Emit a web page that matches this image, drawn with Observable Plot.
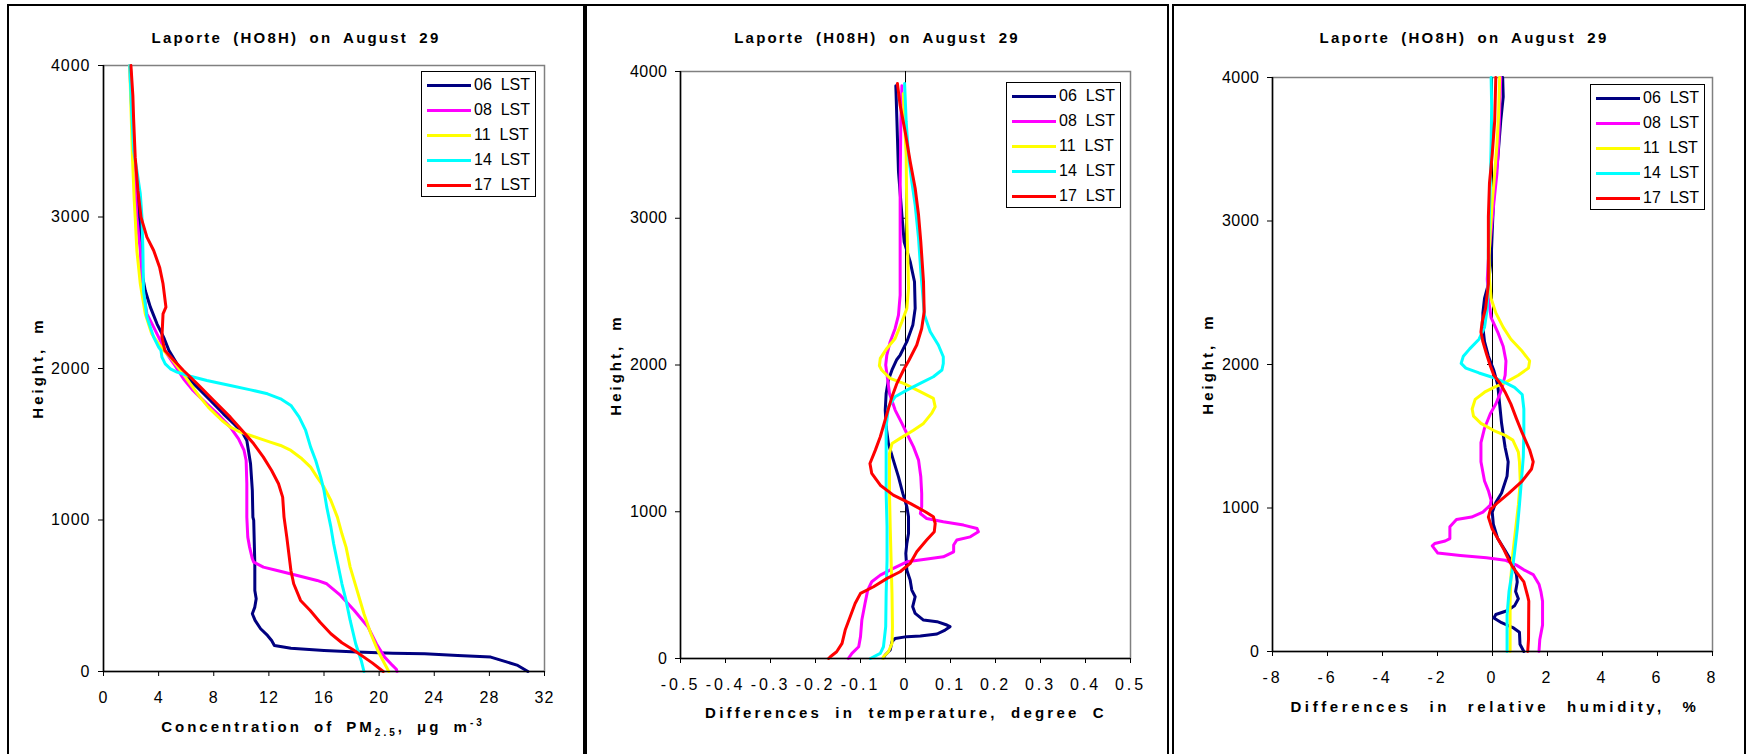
<!DOCTYPE html>
<html>
<head>
<meta charset="utf-8">
<script src="https://cdn.jsdelivr.net/npm/d3@7"></script>
<script src="https://cdn.jsdelivr.net/npm/@observablehq/plot@0.6"></script>
<style>
  body { margin: 0; background: #fff; }
  #root { position: relative; width: 1756px; height: 754px; overflow: hidden; background: #fff;
          font-family: "Liberation Sans", Arial, sans-serif; color: #000; }
  .panel { position: absolute; top: 4px; height: 770px; border: 2px solid #000; border-bottom: none; box-sizing: border-box; }
  .plot { position: absolute; top: 0; }
  .lbl { position: absolute; font-weight: bold; font-size: 15px; white-space: nowrap; transform: translate(-50%, -50%); }
  .ylbl { transform: translate(-50%, -50%) rotate(-90deg); }
  .legend { position: absolute; border: 1px solid #000; background: #fff; box-sizing: border-box; }
  .sw { position: absolute; height: 3px; }
  .lt { position: absolute; font-size: 16px; white-space: pre; transform: translateY(-50%); }
  sub, sup { font-size: 10px; }
</style>
</head>
<body>
<div id="root"></div>
<script>
// ---------------- data ----------------
const seriesLabels = ["06  LST", "08  LST", "11  LST", "14  LST", "17  LST"];
const colors = ["#000080", "#FF00FF", "#FFFF00", "#00FFFF", "#FF0000"];
const heightTicks = [0, 1000, 2000, 3000, 4000];
const pmTicks = [0, 4, 8, 12, 16, 20, 24, 28, 32];
const dtTicks = [-0.5, -0.4, -0.3, -0.2, -0.1, 0, 0.1, 0.2, 0.3, 0.4, 0.5];
const rhTicks = [-8, -6, -4, -2, 0, 2, 4, 6, 8];

// PM2.5 concentration [value, height m]
const pm06 = [[30.8,0],[30.06,40],[29.3,62],[28.1,95],[25.7,106],[23.3,117],[21.0,121],[18.4,128],[16.0,139],[13.6,154],[12.4,172],[12.2,205],[11.9,238],[11.4,282],[11.0,337],[10.8,381],[10.98,425],[11.08,480],[10.98,535],[10.98,711],[10.9,997],[10.84,1019],[10.8,1195],[10.67,1371],[10.4,1525],[10.06,1580],[9.45,1635],[8.7,1701],[7.76,1789],[6.8,1877],[6.06,1943],[5.33,2031],[4.75,2119],[4.36,2207],[3.88,2295],[3.4,2405],[3.03,2515],[2.85,2600],[2.75,2800],[2.6,3000],[2.3,3300],[2.15,3500],[2.05,3800],[1.95,4000]];
const pm08 = [[21.3,0],[21.25,15],[20.97,40],[20.4,95],[19.8,183],[19.2,293],[18.2,403],[17.2,502],[16.2,579],[15.5,601],[14.06,634],[12.6,667],[11.6,689],[10.9,722],[10.8,744],[10.6,821],[10.47,887],[10.4,1019],[10.4,1239],[10.35,1393],[10.2,1459],[9.8,1536],[9.2,1613],[8.4,1690],[7.5,1767],[6.5,1855],[5.8,1932],[5.1,2031],[4.6,2097],[4.24,2163],[3.64,2273],[3.15,2361],[2.79,2559],[2.67,2779],[2.42,2999],[2.3,3219],[2.15,3500],[2.0,3800],[1.9,4000]];
const pm11 = [[20.7,0],[20.4,51],[19.9,139],[19.4,249],[18.9,381],[18.4,535],[17.9,689],[17.6,821],[17.3,909],[16.97,1019],[16.5,1129],[16.0,1217],[15.5,1283],[15.03,1349],[14.4,1404],[13.6,1459],[12.85,1492],[12.1,1514],[11.4,1536],[10.67,1558],[9.94,1580],[9.2,1613],[8.6,1657],[8.1,1701],[7.6,1745],[7.0,1811],[6.3,1899],[5.6,1987],[4.85,2075],[4.36,2119],[4.0,2163],[3.5,2229],[3.03,2361],[2.67,2559],[2.42,2779],[2.3,2999],[2.23,3109],[2.1,3400],[2.0,3700],[1.9,4000]];
const pm14 = [[18.9,0],[18.7,73],[18.3,183],[17.9,337],[17.6,469],[17.3,579],[17.0,711],[16.7,843],[16.5,953],[16.2,1085],[16.0,1195],[15.76,1283],[15.4,1393],[15.03,1481],[14.67,1591],[14.2,1679],[13.6,1756],[12.85,1800],[11.9,1833],[10.67,1859],[9.2,1888],[7.5,1921],[6.3,1949],[5.33,1976],[4.85,1998],[4.48,2031],[4.24,2075],[4.17,2119],[4.0,2141],[3.64,2207],[3.15,2339],[2.9,2515],[2.86,2779],[2.79,2999],[2.67,3153],[2.42,3307],[2.18,3439],[2.06,3659],[1.9,4000]];
const pm17 = [[20.3,0],[19.5,57],[18.2,139],[17.3,190],[16.5,249],[15.7,327],[15.0,403],[14.3,469],[13.8,579],[13.6,667],[13.3,887],[13.1,1019],[13.0,1151],[12.7,1239],[12.2,1327],[11.6,1415],[10.9,1503],[10.06,1591],[9.2,1679],[8.0,1789],[6.8,1899],[5.8,1987],[5.05,2060],[4.45,2119],[4.24,2207],[4.32,2361],[4.53,2405],[4.32,2559],[4.07,2669],[3.64,2779],[3.15,2867],[2.72,2999],[2.5,3175],[2.3,3395],[2.18,3659],[2.13,3802],[1.99,4000]];

// Temperature differences [value, height m]
const dt06 = [[-0.05,0],[-0.045,24],[-0.034,58],[-0.03,115],[-0.023,137],[0.003,149],[0.033,153],[0.07,167],[0.088,194],[0.099,217],[0.092,228],[0.07,251],[0.04,262],[0.0215,307],[0.016,353],[0.0215,421],[0.014,466],[0.0104,534],[0.003,602],[0.0007,716],[0.003,784],[0.0067,852],[0.0067,966],[0.003,1034],[-0.006,1125],[-0.0156,1238],[-0.027,1352],[-0.038,1465],[-0.043,1579],[-0.045,1693],[-0.043,1806],[-0.038,1897],[-0.03,1966],[-0.02,2034],[-0.0118,2068],[0.003,2159],[0.0163,2272],[0.0215,2386],[0.02,2567],[0.0104,2704],[-0.003,2840],[-0.008,3022],[-0.0156,3317],[-0.019,3658],[-0.0215,3903]];
const dt08 = [[-0.127,0],[-0.119,35],[-0.104,80],[-0.1,149],[-0.097,262],[-0.09,375],[-0.084,466],[-0.075,523],[-0.056,568],[-0.027,614],[0.003,659],[0.04,675],[0.084,693],[0.107,727],[0.107,773],[0.114,807],[0.144,829],[0.162,864],[0.159,886],[0.129,909],[0.084,932],[0.047,954],[0.033,988],[0.036,1034],[0.036,1125],[0.034,1238],[0.029,1352],[0.0178,1442],[0.003,1533],[-0.008,1602],[-0.023,1693],[-0.0356,1806],[-0.0415,1943],[-0.044,2000],[-0.0415,2068],[-0.034,2159],[-0.023,2249],[-0.0156,2340],[-0.0119,2476],[-0.0119,2749],[-0.0119,3204],[-0.0104,3658],[-0.008,3903]];
const dt11 = [[-0.05,0],[-0.049,12],[-0.038,46],[-0.03,103],[-0.029,217],[-0.03,444],[-0.032,671],[-0.034,898],[-0.0356,1125],[-0.0356,1397],[-0.03,1465],[-0.0119,1500],[0.0178,1556],[0.04,1602],[0.058,1670],[0.066,1715],[0.062,1772],[0.0326,1818],[-0.0044,1875],[-0.034,1909],[-0.053,1966],[-0.058,1995],[-0.056,2045],[-0.0415,2113],[-0.023,2181],[-0.008,2295],[0.003,2386],[0.0067,2522],[0.005,2749],[0.003,2977],[0.0015,3431],[-0.005,3850]];
const dt14 = [[-0.078,0],[-0.056,35],[-0.049,80],[-0.044,217],[-0.043,444],[-0.041,671],[-0.041,898],[-0.043,1125],[-0.043,1352],[-0.043,1579],[-0.038,1715],[-0.023,1784],[0.003,1829],[0.0326,1875],[0.062,1920],[0.081,1966],[0.084,2010],[0.084,2056],[0.073,2136],[0.055,2227],[0.042,2340],[0.0385,2476],[0.034,2636],[0.029,2863],[0.0215,3090],[0.014,3249],[0.0067,3431],[0.0015,3658],[-0.002,3919]];
const dt17 = [[-0.171,0],[-0.167,12],[-0.153,46],[-0.141,103],[-0.134,194],[-0.123,285],[-0.112,375],[-0.1,444],[-0.071,489],[-0.041,546],[-0.0119,591],[0.0104,648],[0.025,727],[0.047,807],[0.064,864],[0.066,920],[0.062,966],[0.044,1000],[0.0104,1057],[-0.027,1113],[-0.056,1181],[-0.075,1261],[-0.079,1329],[-0.067,1420],[-0.056,1511],[-0.041,1670],[-0.03,1784],[-0.019,1875],[-0.0044,1966],[0.008,2034],[0.025,2136],[0.036,2249],[0.0415,2363],[0.04,2567],[0.034,2840],[0.029,3022],[0.0215,3204],[0.0104,3386],[-0.0007,3590],[-0.012,3771],[-0.018,3919]];

// Relative humidity differences [value, height m]
const rh06 = [[1.14,0],[1.0,50],[0.98,134],[0.74,167],[0.33,201],[0.05,234],[0.12,258],[0.53,284],[0.8,318],[0.94,368],[0.84,418],[0.9,485],[0.87,536],[0.67,636],[0.46,703],[0.19,787],[0.03,887],[-0.01,971],[0.12,1038],[0.33,1104],[0.53,1222],[0.57,1322],[0.46,1422],[0.33,1590],[0.26,1724],[0.19,1858],[0.05,1958],[-0.15,2058],[-0.29,2159],[-0.35,2259],[-0.35,2360],[-0.29,2460],[-0.15,2560],[-0.05,2728],[-0.01,2929],[0.05,3196],[0.19,3431],[0.3,3698],[0.39,3866],[0.37,4000]];
const rh08 = [[1.69,0],[1.72,84],[1.82,184],[1.82,351],[1.76,418],[1.69,469],[1.48,536],[1.14,569],[0.87,602],[0.46,636],[-0.22,653],[-1.17,669],[-1.99,686],[-2.19,736],[-2.1,753],[-1.72,770],[-1.55,787],[-1.55,870],[-1.31,920],[-0.76,937],[-0.35,971],[-0.08,1021],[-0.05,1054],[-0.15,1121],[-0.29,1188],[-0.42,1322],[-0.42,1456],[-0.29,1556],[-0.08,1657],[0.12,1724],[0.33,1824],[0.46,1925],[0.49,2025],[0.39,2125],[0.19,2226],[-0.05,2326],[-0.15,2460],[-0.19,2594],[-0.15,2728],[-0.05,2929],[0.05,3129],[0.16,3330],[0.22,3531],[0.26,3765],[0.3,4000]];
const rh11 = [[0.64,0],[0.64,351],[0.67,519],[0.74,686],[0.84,853],[0.94,1021],[1.01,1188],[0.98,1322],[0.94,1389],[0.74,1473],[0.46,1506],[0.05,1540],[-0.42,1590],[-0.69,1640],[-0.74,1690],[-0.63,1757],[-0.29,1807],[0.05,1841],[0.46,1874],[0.94,1925],[1.31,1975],[1.35,2025],[1.08,2092],[0.67,2176],[0.39,2259],[0.12,2360],[-0.05,2460],[-0.11,2594],[-0.12,2761],[-0.08,2929],[-0.01,3129],[0.08,3330],[0.16,3531],[0.22,3732],[0.26,4000]];
const rh14 = [[0.53,0],[0.53,251],[0.6,418],[0.71,552],[0.8,686],[0.9,853],[0.98,1021],[1.05,1188],[1.12,1356],[1.14,1523],[1.14,1690],[1.08,1791],[0.8,1841],[0.46,1874],[0.05,1908],[-0.49,1941],[-0.97,1975],[-1.14,2008],[-1.06,2058],[-0.83,2109],[-0.49,2176],[-0.29,2259],[-0.19,2393],[-0.15,2594],[-0.15,2795],[-0.12,2996],[-0.08,3263],[-0.05,3531],[-0.03,3799],[-0.05,4000]];
const rh17 = [[1.28,0],[1.31,84],[1.32,351],[1.28,385],[1.14,485],[0.94,536],[0.74,586],[0.6,636],[0.39,720],[0.19,787],[-0.01,853],[-0.15,937],[-0.08,987],[0.19,1038],[0.6,1104],[1.08,1188],[1.42,1272],[1.48,1322],[1.35,1406],[1.08,1523],[0.87,1623],[0.67,1724],[0.46,1807],[0.26,1874],[0.05,1925],[-0.08,1991],[-0.22,2075],[-0.35,2159],[-0.42,2226],[-0.38,2293],[-0.25,2393],[-0.15,2560],[-0.15,2795],[-0.15,3029],[-0.11,3263],[-0.01,3464],[0.08,3698],[0.12,4000]];

// ---------------- layout ----------------
const root = document.getElementById("root");
const FONT = '"Liberation Sans", Arial, sans-serif';

function addEl(cls, style, html) {
  const d = document.createElement("div");
  d.className = cls;
  Object.assign(d.style, style);
  if (html != null) d.innerHTML = html;
  root.appendChild(d);
  return d;
}

function makePanel(cfg) {
  addEl("panel", {left: cfg.boxLeft + "px", width: cfg.boxWidth + "px"});
  const marks = [Plot.frame({stroke: "#808080", strokeWidth: 1.5})];
  if (cfg.zero) {
    marks.push(Plot.ruleX([0], {stroke: "#000", strokeWidth: 1}));
    marks.push(Plot.ruleY(heightTicks.slice(1, 4), {y: d => d, x1: 0, x2: 0, insetLeft: -5, stroke: "#000", strokeWidth: 1}));
  }
  cfg.series.forEach((s, i) => {
    marks.push(Plot.line(s, {x: d => d[0], y: d => d[1], stroke: colors[i], strokeWidth: 3,
                             strokeLinejoin: "round", strokeLinecap: "round"}));
  });
  marks.push(Plot.ruleX([cfg.xDomain[0]], {stroke: "#000", strokeWidth: 1.5}));
  marks.push(Plot.ruleY([0], {stroke: "#000", strokeWidth: 1.5}));
  marks.push(Plot.axisX({ticks: cfg.xTicks, tickFormat: cfg.xFmt, tickSize: 5, tickPadding: 15, label: null}));
  marks.push(Plot.axisY({ticks: heightTicks, tickFormat: d => String(d), tickSize: 5, tickPadding: 8, label: null}));
  const svg = Plot.plot({
    width: cfg.boxWidth, height: 754,
    marginLeft: cfg.mL, marginRight: cfg.mR, marginTop: cfg.mT, marginBottom: cfg.mB,
    x: {domain: cfg.xDomain, label: null},
    y: {domain: [0, 4000], label: null},
    style: {fontSize: "16px", fontFamily: FONT, letterSpacing: cfg.tickLs, background: "transparent", overflow: "visible"},
    marks
  });
  svg.querySelectorAll('[aria-label="y-axis tick label"]').forEach(g => { g.style.letterSpacing = cfg.yTickLs; });
  svg.classList.add("plot");
  svg.style.left = cfg.boxLeft + "px";
  root.appendChild(svg);

  addEl("lbl", {left: cfg.title[0] + "px", top: cfg.title[1] + "px", letterSpacing: "2.2px", wordSpacing: "5px"}, cfg.titleText);
  addEl("lbl", {left: cfg.xl[0] + "px", top: cfg.xl[1] + "px", letterSpacing: cfg.xlLs, wordSpacing: cfg.xlWs}, cfg.xlText);
  addEl("lbl ylbl", {left: cfg.yl[0] + "px", top: cfg.yl[1] + "px", letterSpacing: "3px", wordSpacing: "6px"}, "Height, m");

  const lg = addEl("legend", {left: cfg.leg[0] + "px", top: cfg.leg[1] + "px", width: "115px", height: "126px"});
  seriesLabels.forEach((t, i) => {
    const sw = document.createElement("div");
    sw.className = "sw";
    Object.assign(sw.style, {left: "5px", top: (13 + 25 * i - 1.5) + "px", width: "44px", background: colors[i]});
    lg.appendChild(sw);
    const tx = document.createElement("div");
    tx.className = "lt";
    Object.assign(tx.style, {left: "52px", top: (13 + 25 * i) + "px"});
    tx.textContent = t;
    lg.appendChild(tx);
  });
}

makePanel({
  boxLeft: 7, boxWidth: 578, mL: 96, mR: 41, mT: 65, mB: 83,
  xDomain: [0, 32], xTicks: pmTicks, xFmt: d => String(d), tickLs: "1px", yTickLs: "1px",
  series: [pm06, pm08, pm11, pm14, pm17], zero: false,
  title: [296, 37], titleText: "Laporte (HO8H) on August 29",
  xl: [323, 727], xlLs: "3px", xlWs: "5px",
  xlText: "Concentration of PM<sub>2.5</sub>, μg m<sup>-3</sup>",
  yl: [37, 368], leg: [421, 71]
});
makePanel({
  boxLeft: 585, boxWidth: 584, mL: 95, mR: 39, mT: 71, mB: 96,
  xDomain: [-0.5, 0.5], xTicks: dtTicks, xFmt: d => (Math.abs(d) < 1e-9 ? "0" : d.toFixed(1)), tickLs: "3px", yTickLs: "0.5px",
  series: [dt06, dt08, dt11, dt14, dt17], zero: true,
  title: [877, 37], titleText: "Laporte (H08H) on August 29",
  xl: [906, 712], xlLs: "3.2px", xlWs: "6px",
  xlText: "Differences in temperature, degree C",
  yl: [615, 365], leg: [1006, 82]
});
makePanel({
  boxLeft: 1172, boxWidth: 574, mL: 100, mR: 34, mT: 77, mB: 103,
  xDomain: [-8, 8], xTicks: rhTicks, xFmt: d => String(d), tickLs: "3px", yTickLs: "0.5px",
  series: [rh06, rh08, rh11, rh14, rh17], zero: true,
  title: [1464, 37], titleText: "Laporte (HO8H) on August 29",
  xl: [1495, 706], xlLs: "3.6px", xlWs: "10px",
  xlText: "Differences in relative humidity, %",
  yl: [1207, 364], leg: [1590, 84]
});
</script>
</body>
</html>
